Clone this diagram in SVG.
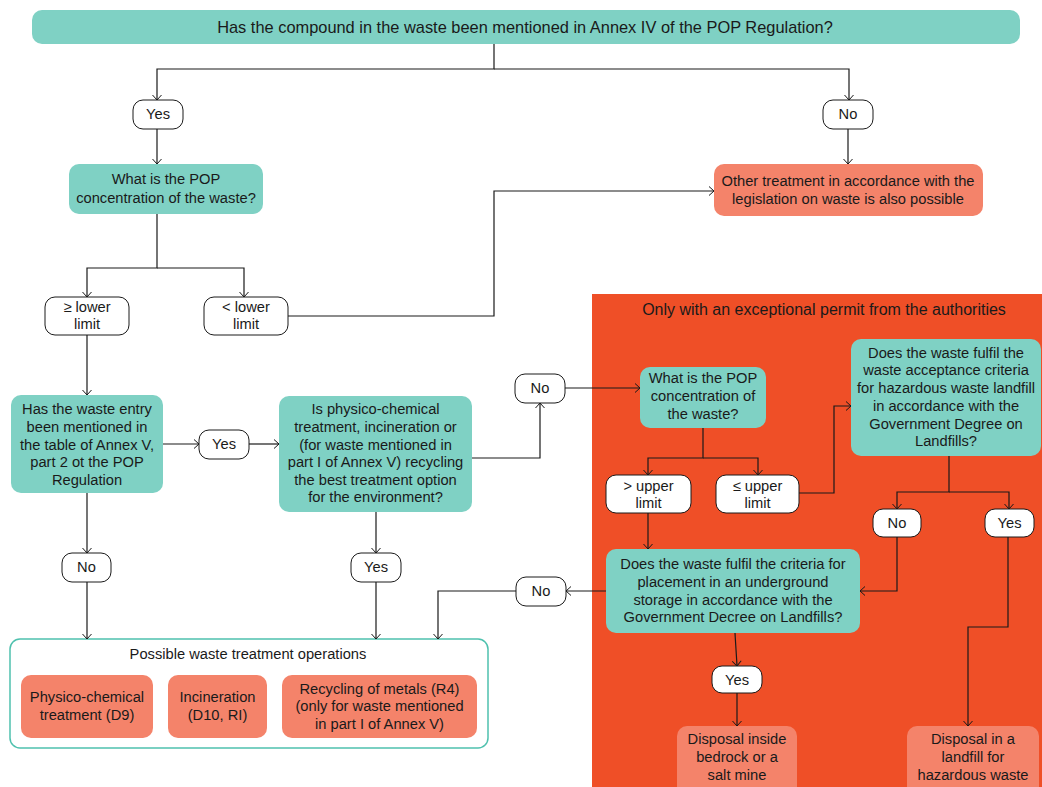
<svg xmlns="http://www.w3.org/2000/svg" width="1042" height="787" viewBox="0 0 1042 787">
  <defs>
    <marker id="arr" viewBox="0 0 6 10" refX="5.5" refY="5" markerWidth="6" markerHeight="10" orient="auto" markerUnits="userSpaceOnUse">
      <path d="M0.5,0.5 L5.5,5 L0.5,9.5" fill="none" stroke="#1a1a1a" stroke-width="1"/>
    </marker>
    <style>
      text { font-family: "Liberation Sans", Arial, sans-serif; font-size: 14.7px; fill: #1a1a1a; text-anchor: middle; }
      .q { fill: #7fd1c4; }
      .op { fill: #f4836a; }
      .pill { fill: #ffffff; stroke: #1a1a1a; stroke-width: 1; }
      .zone { fill: #ef4f27; }
      .group { fill: #ffffff; stroke: #4fc1ae; stroke-width: 1.5; }
      .c { fill: none; stroke: #1a1a1a; stroke-width: 1.2; }
      .big { font-size: 16.4px; }
      .mid { font-size: 16px; }
    </style>
  </defs>

  <!-- permit zone background -->
  <g id="permit-zone">
    <rect class="zone" x="592" y="294" width="450" height="493"/>
    <text class="mid" x="824" y="315">Only with an exceptional permit from the authorities</text>
  </g>

  <!-- operations container -->
  <g id="operations">
    <rect class="group" x="10" y="639" width="478" height="109" rx="10"/>
    <text x="248" y="659">Possible waste treatment operations</text>
  </g>

  <g id="connectors">
    <path class="c" d="M494,44 V69 H157 V100" marker-end="url(#arr)"/>
    <path class="c" d="M494,69 H849 V100" marker-end="url(#arr)"/>
    <path class="c" d="M157,129 V164" marker-end="url(#arr)"/>
    <path class="c" d="M848,129 V164" marker-end="url(#arr)"/>
    <path class="c" d="M157,214 V268 H87 V297" marker-end="url(#arr)"/>
    <path class="c" d="M157,268 H244 V297" marker-end="url(#arr)"/>
    <path class="c" d="M288,316 H494 V191 H714" marker-end="url(#arr)"/>
    <path class="c" d="M87,335 V395" marker-end="url(#arr)"/>
    <path class="c" d="M163,444 H199" marker-end="url(#arr)"/>
    <path class="c" d="M249,444 H279" marker-end="url(#arr)"/>
    <path class="c" d="M472,458 H540 V403" marker-end="url(#arr)"/>
    <path class="c" d="M565,388 H640" marker-end="url(#arr)"/>
    <path class="c" d="M703,428 V458 H648 V475" marker-end="url(#arr)"/>
    <path class="c" d="M703,458 H758 V475" marker-end="url(#arr)"/>
    <path class="c" d="M799,493 H834 V406 H851" marker-end="url(#arr)"/>
    <path class="c" d="M949,456 V492 H897 V509" marker-end="url(#arr)"/>
    <path class="c" d="M949,492 H1009 V509" marker-end="url(#arr)"/>
    <path class="c" d="M648,513 V549" marker-end="url(#arr)"/>
    <path class="c" d="M897,537 V591 H860" marker-end="url(#arr)"/>
    <path class="c" d="M1008,537 V627 H968 V726" marker-end="url(#arr)"/>
    <path class="c" d="M606,591 H566" marker-end="url(#arr)"/>
    <path class="c" d="M516,591 H438 V639" marker-end="url(#arr)"/>
    <path class="c" d="M735,633 L737,666" marker-end="url(#arr)"/>
    <path class="c" d="M737,693 V726" marker-end="url(#arr)"/>
    <path class="c" d="M87,493 V553" marker-end="url(#arr)"/>
    <path class="c" d="M87,582 V639" marker-end="url(#arr)"/>
    <path class="c" d="M376,512 V553" marker-end="url(#arr)"/>
    <path class="c" d="M376,582 V639" marker-end="url(#arr)"/>
  </g>

  <g id="q-annex-iv">
    <rect class="q" x="32" y="10" width="988" height="34" rx="10"/>
    <text class="big" x="525" y="33">Has the compound in the waste been mentioned in Annex IV of the POP Regulation?</text>
  </g>

  <g id="yes-annex-iv">
    <rect class="pill" x="133" y="100" width="50" height="29" rx="10"/>
    <text x="158" y="119">Yes</text>
  </g>

  <g id="no-annex-iv">
    <rect class="pill" x="823" y="100" width="50" height="29" rx="10"/>
    <text x="848" y="119">No</text>
  </g>

  <g id="q-pop-concentration">
    <rect class="q" x="69" y="164" width="194" height="50" rx="10"/>
    <text x="166" y="184">What is the POP</text>
    <text x="166" y="203">concentration of the waste?</text>
  </g>

  <g id="other-treatment">
    <rect class="op" x="714" y="164" width="269" height="52" rx="10"/>
    <text x="848" y="186">Other treatment in accordance with the</text>
    <text x="848" y="204">legislation on waste is also possible</text>
  </g>

  <g id="above-lower-limit">
    <rect class="pill" x="45" y="297" width="84" height="38" rx="10"/>
    <text x="87" y="312">≥ lower</text>
    <text x="87" y="329">limit</text>
  </g>

  <g id="below-lower-limit">
    <rect class="pill" x="204" y="297" width="84" height="38" rx="10"/>
    <text x="246" y="312">&lt; lower</text>
    <text x="246" y="329">limit</text>
  </g>

  <g id="q-annex-v">
    <rect class="q" x="11" y="395" width="152" height="98" rx="10"/>
    <text x="87" y="414">Has the waste entry</text>
    <text x="87" y="432">been mentioned in</text>
    <text x="87" y="450">the table of Annex V,</text>
    <text x="87" y="467">part 2 ot the POP</text>
    <text x="87" y="485">Regulation</text>
  </g>

  <g id="yes-annex-v">
    <rect class="pill" x="199" y="430" width="50" height="29" rx="10"/>
    <text x="224" y="449">Yes</text>
  </g>

  <g id="q-best-option">
    <rect class="q" x="279" y="396" width="193" height="116" rx="10"/>
    <text x="375.5" y="414">Is physico-chemical</text>
    <text x="375.5" y="432">treatment, incineration or</text>
    <text x="375.5" y="449.5">(for waste mentioned in</text>
    <text x="375.5" y="467">part I of Annex V) recycling</text>
    <text x="375.5" y="485">the best treatment option</text>
    <text x="375.5" y="502">for the environment?</text>
  </g>

  <g id="no-best-option">
    <rect class="pill" x="515" y="374" width="50" height="29" rx="10"/>
    <text x="540" y="393">No</text>
  </g>

  <g id="q-pop-concentration-2">
    <rect class="q" x="640" y="367" width="126" height="61" rx="10"/>
    <text x="703" y="383">What is the POP</text>
    <text x="703" y="401">concentration of</text>
    <text x="703" y="419">the waste?</text>
  </g>

  <g id="above-upper-limit">
    <rect class="pill" x="606" y="475" width="85" height="38" rx="10"/>
    <text x="648.5" y="491">&gt; upper</text>
    <text x="648.5" y="508">limit</text>
  </g>

  <g id="below-upper-limit">
    <rect class="pill" x="716" y="475" width="83" height="38" rx="10"/>
    <text x="757.5" y="491">≤ upper</text>
    <text x="757.5" y="508">limit</text>
  </g>

  <g id="q-hazardous-landfill">
    <rect class="q" x="851" y="339" width="190" height="117" rx="10"/>
    <text x="946" y="358">Does the waste fulfil the</text>
    <text x="946" y="375">waste acceptance criteria</text>
    <text x="946" y="393">for hazardous waste landfill</text>
    <text x="946" y="411">in accordance with the</text>
    <text x="946" y="429">Government Degree on</text>
    <text x="946" y="446">Landfills?</text>
  </g>

  <g id="no-hazardous">
    <rect class="pill" x="873" y="509" width="48" height="28" rx="10"/>
    <text x="897" y="528">No</text>
  </g>

  <g id="yes-hazardous">
    <rect class="pill" x="985" y="509" width="49" height="28" rx="10"/>
    <text x="1009.5" y="528">Yes</text>
  </g>

  <g id="q-underground">
    <rect class="q" x="606" y="549" width="254" height="84" rx="10"/>
    <text x="733" y="569">Does the waste fulfil the criteria for</text>
    <text x="733" y="587">placement in an underground</text>
    <text x="733" y="605">storage in accordance with the</text>
    <text x="733" y="622">Government Decree on Landfills?</text>
  </g>

  <g id="no-underground">
    <rect class="pill" x="516" y="577" width="50" height="29" rx="10"/>
    <text x="541" y="596">No</text>
  </g>

  <g id="yes-underground">
    <rect class="pill" x="712" y="666" width="50" height="27" rx="10"/>
    <text x="737" y="684.5">Yes</text>
  </g>

  <g id="disposal-bedrock">
    <rect class="op" x="677" y="726" width="120" height="70" rx="10"/>
    <text x="737" y="744">Disposal inside</text>
    <text x="737" y="762">bedrock or a</text>
    <text x="737" y="780">salt mine</text>
  </g>

  <g id="disposal-landfill">
    <rect class="op" x="907" y="726" width="132" height="70" rx="10"/>
    <text x="973" y="744">Disposal in a</text>
    <text x="973" y="762">landfill for</text>
    <text x="973" y="780">hazardous waste</text>
  </g>

  <g id="no-annex-v">
    <rect class="pill" x="62" y="553" width="49" height="29" rx="10"/>
    <text x="86.5" y="572">No</text>
  </g>

  <g id="yes-best-option">
    <rect class="pill" x="351" y="553" width="50" height="29" rx="10"/>
    <text x="376" y="572">Yes</text>
  </g>

  <g id="op-physico-chemical">
    <rect class="op" x="21" y="675" width="132" height="63" rx="10"/>
    <text x="87" y="702">Physico-chemical</text>
    <text x="87" y="720">treatment (D9)</text>
  </g>

  <g id="op-incineration">
    <rect class="op" x="168" y="675" width="99" height="63" rx="10"/>
    <text x="217.5" y="702">Incineration</text>
    <text x="217.5" y="720">(D10, RI)</text>
  </g>

  <g id="op-recycling">
    <rect class="op" x="282" y="675" width="195" height="63" rx="10"/>
    <text x="379.5" y="694">Recycling of metals (R4)</text>
    <text x="379.5" y="711">(only for waste mentioned</text>
    <text x="379.5" y="729">in part I of Annex V)</text>
  </g>
</svg>
